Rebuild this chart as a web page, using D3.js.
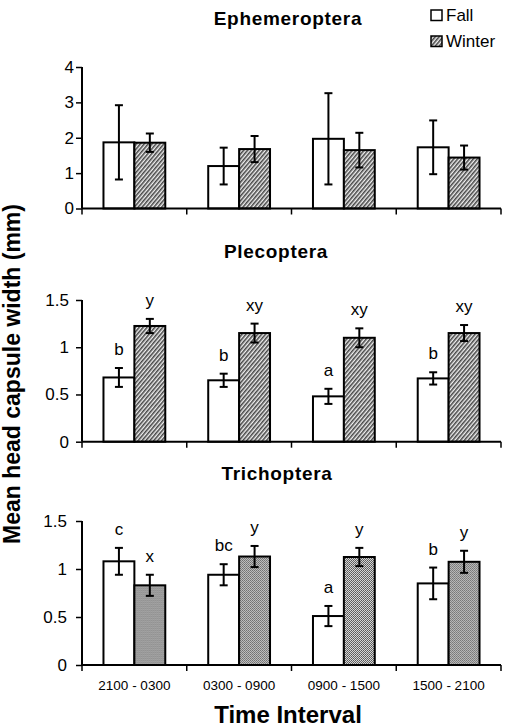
<!DOCTYPE html>
<html>
  <head>
    <meta charset="utf-8" />
    <title>Mean head capsule width by time interval</title>
    <script src="https://d3js.org/d3.v7.min.js" charset="utf-8"></script>
    <style>
      html,
      body {
        margin: 0;
        padding: 0;
        background-color: white;
        font-family: Arial, "Liberation Sans", sans-serif;
      }
    </style>
  </head>

  <body>
    <svg id="chart"></svg>

    <script>
      // Data
      const intervals = ["2100 - 0300", "0300 - 0900", "0900 - 1500", "1500 - 2100"];
      const seasons = ["Fall", "Winter"];

      const ephFall = [1.87, 1.2, 1.97, 1.73];
      const ephFallErr = [1.05, 0.52, 1.29, 0.76];
      const ephWinter = [1.86, 1.68, 1.65, 1.44];
      const ephWinterErr = [0.26, 0.37, 0.49, 0.34];

      const plecFall = [0.68, 0.65, 0.48, 0.67];
      const plecFallErr = [0.1, 0.07, 0.08, 0.065];
      const plecWinter = [1.225, 1.15, 1.1, 1.15];
      const plecWinterErr = [0.075, 0.1, 0.1, 0.085];
      const plecFallLetters = ["b", "b", "a", "b"];
      const plecWinterLetters = ["y", "xy", "xy", "xy"];

      const trichFall = [1.08, 0.94, 0.51, 0.85];
      const trichFallErr = [0.14, 0.11, 0.105, 0.165];
      const trichWinter = [0.83, 1.13, 1.125, 1.075];
      const trichWinterErr = [0.11, 0.11, 0.095, 0.115];
      const trichFallLetters = ["c", "bc", "a", "b"];
      const trichWinterLetters = ["x", "y", "y", "y"];

      const ephTicks = [0, 1, 2, 3, 4];
      const smallTicks = [0, 0.5, 1, 1.5];

      // SVG size
      const width = 507;
      const height = 728;
      const left = 82;
      const right = 501;

      const svg = d3
        .select("#chart")
        .attr("width", width)
        .attr("height", height)
        .style("display", "block");

      // Patterns for the winter bars
      const defs = svg.append("defs");
      const hatch = defs
        .append("pattern")
        .attr("id", "hatch")
        .attr("patternUnits", "userSpaceOnUse")
        .attr("width", 3)
        .attr("height", 10)
        .attr("patternTransform", "rotate(40)");
      hatch.append("rect").attr("width", 3).attr("height", 10).attr("fill", "#f0f0f0");
      hatch
        .append("line")
        .attr("x1", 0.8)
        .attr("x2", 0.8)
        .attr("y1", 0)
        .attr("y2", 10)
        .attr("stroke", "#333")
        .attr("stroke-width", 1.4);

      const dots = defs
        .append("pattern")
        .attr("id", "dots")
        .attr("patternUnits", "userSpaceOnUse")
        .attr("width", 2)
        .attr("height", 2);
      dots.append("rect").attr("width", 2).attr("height", 2).attr("fill", "#d8d8d8");
      dots.append("rect").attr("width", 1).attr("height", 1).attr("fill", "#555");
      dots.append("rect").attr("x", 1).attr("y", 1).attr("width", 1).attr("height", 1).attr("fill", "#666");

      // Group and bar scales shared by all panels
      const x0 = d3
        .scaleBand()
        .domain(intervals)
        .range([left, right])
        .paddingInner(0.41)
        .paddingOuter(0.205);
      const x1 = d3.scaleBand().domain(seasons).range([0, x0.bandwidth()]);

      function drawPanel(cfg) {
        const y = d3.scaleLinear().domain([0, cfg.max]).range([cfg.bottom, cfg.top]);
        const g = svg.append("g");

        // title
        svg
          .append("text")
          .attr("x", cfg.titleX)
          .attr("y", cfg.titleY)
          .attr("text-anchor", "middle")
          .attr("font-size", 19)
          .attr("font-weight", "bold")
          .attr("letter-spacing", 0.7)
          .text(cfg.title);

        const rows = intervals.map((interval, i) => ({
          interval: interval,
          values: [
            { season: "Fall", v: cfg.fall[i], e: cfg.fallErr[i], lab: cfg.fallLab ? cfg.fallLab[i] : "" },
            { season: "Winter", v: cfg.winter[i], e: cfg.winterErr[i], lab: cfg.winterLab ? cfg.winterLab[i] : "" },
          ],
        }));

        const groups = g
          .selectAll("g.grp")
          .data(rows)
          .join("g")
          .attr("class", "grp")
          .attr("transform", (d) => `translate(${x0(d.interval)},0)`);

        const items = groups.selectAll("g.item").data((d) => d.values).join("g").attr("class", "item");

        items
          .append("rect")
          .attr("x", (d) => x1(d.season))
          .attr("y", (d) => y(d.v))
          .attr("width", x1.bandwidth())
          .attr("height", (d) => y(0) - y(d.v))
          .attr("fill", (d) => (d.season === "Fall" ? "white" : `url(#${cfg.pattern})`))
          .attr("stroke", "black")
          .attr("stroke-width", 2);

        // error bars
        const cx = (d) => x1(d.season) + x1.bandwidth() / 2;
        items
          .append("line")
          .attr("x1", cx)
          .attr("x2", cx)
          .attr("y1", (d) => y(d.v - d.e))
          .attr("y2", (d) => y(d.v + d.e))
          .attr("stroke", "black")
          .attr("stroke-width", 2);
        [-1, 1].forEach((s) => {
          items
            .append("line")
            .attr("x1", (d) => cx(d) - 4)
            .attr("x2", (d) => cx(d) + 4)
            .attr("y1", (d) => y(d.v + s * d.e))
            .attr("y2", (d) => y(d.v + s * d.e))
            .attr("stroke", "black")
            .attr("stroke-width", 2);
        });

        // significance letters
        items
          .append("text")
          .attr("x", cx)
          .attr("y", (d) => y(d.v + d.e) - 13)
          .attr("text-anchor", "middle")
          .attr("font-size", 17)
          .text((d) => d.lab);

        // y axis
        const yAxis = d3
          .axisLeft(y)
          .tickValues(cfg.ticks)
          .tickFormat((d) => d)
          .tickSize(6)
          .tickPadding(cfg.pad);
        const ya = svg.append("g").attr("transform", `translate(${left},0)`).call(yAxis);
        ya.select(".domain").attr("stroke-width", 2).attr("d", `M0,${cfg.top}V${cfg.bottom}`);
        ya.selectAll(".tick line").attr("stroke-width", 1.5);
        ya.selectAll("text").attr("font-size", 17).attr("font-family", "Arial, 'Liberation Sans', sans-serif");

        // x axis line and boundary ticks
        svg
          .append("line")
          .attr("x1", left)
          .attr("x2", right)
          .attr("y1", cfg.bottom)
          .attr("y2", cfg.bottom)
          .attr("stroke", "black")
          .attr("stroke-width", 2);
        const bounds = intervals.map((d) => x0(d) - (x0.step() - x0.bandwidth()) / 2).concat([right]);
        svg
          .selectAll(null)
          .data(bounds)
          .join("line")
          .attr("x1", (d) => d)
          .attr("x2", (d) => d)
          .attr("y1", cfg.bottom)
          .attr("y2", cfg.bottom + 6)
          .attr("stroke", "black")
          .attr("stroke-width", 1.5);
      }

      drawPanel({
        title: "Ephemeroptera", titleX: 288, titleY: 25,
        fall: ephFall, fallErr: ephFallErr, winter: ephWinter, winterErr: ephWinterErr,
        max: 4, ticks: ephTicks, top: 67, bottom: 208.5, pad: 2, pattern: "hatch",
      });
      drawPanel({
        title: "Plecoptera", titleX: 276, titleY: 258,
        fall: plecFall, fallErr: plecFallErr, winter: plecWinter, winterErr: plecWinterErr,
        fallLab: plecFallLetters, winterLab: plecWinterLetters,
        max: 1.5, ticks: smallTicks, top: 300, bottom: 441.7, pad: 7, pattern: "hatch",
      });
      drawPanel({
        title: "Trichoptera", titleX: 277, titleY: 480,
        fall: trichFall, fallErr: trichFallErr, winter: trichWinter, winterErr: trichWinterErr,
        fallLab: trichFallLetters, winterLab: trichWinterLetters,
        max: 1.5, ticks: smallTicks, top: 521, bottom: 665, pad: 9, pattern: "dots",
      });

      // interval labels under the bottom panel
      svg
        .selectAll("text.interval")
        .data(intervals)
        .join("text")
        .attr("class", "interval")
        .attr("x", (d) => x0(d) + x0.bandwidth() / 2)
        .attr("y", 690)
        .attr("text-anchor", "middle")
        .attr("font-size", 13.5)
        .text((d) => d);

      // legend
      const legend = svg
        .selectAll("g.legend")
        .data(seasons)
        .join("g")
        .attr("class", "legend")
        .attr("transform", (d, i) => `translate(431,${10 + i * 26})`);
      legend
        .append("rect")
        .attr("width", 11)
        .attr("height", 10.5)
        .attr("fill", (d) => (d === "Fall" ? "white" : "url(#hatch)"))
        .attr("stroke", "black")
        .attr("stroke-width", 1.5);
      legend
        .append("text")
        .attr("x", 15)
        .attr("y", 11)
        .attr("font-size", 17)
        .text((d) => d);

      // axis titles
      svg
        .append("text")
        .attr("transform", "translate(20,374) rotate(-90)")
        .attr("text-anchor", "middle")
        .attr("font-size", 23)
        .attr("font-weight", "bold")
        .text("Mean head capsule width (mm)");

      svg
        .append("text")
        .attr("x", 288)
        .attr("y", 723)
        .attr("text-anchor", "middle")
        .attr("font-size", 24)
        .attr("font-weight", "bold")
        .text("Time Interval");
    </script>
  </body>
</html>
